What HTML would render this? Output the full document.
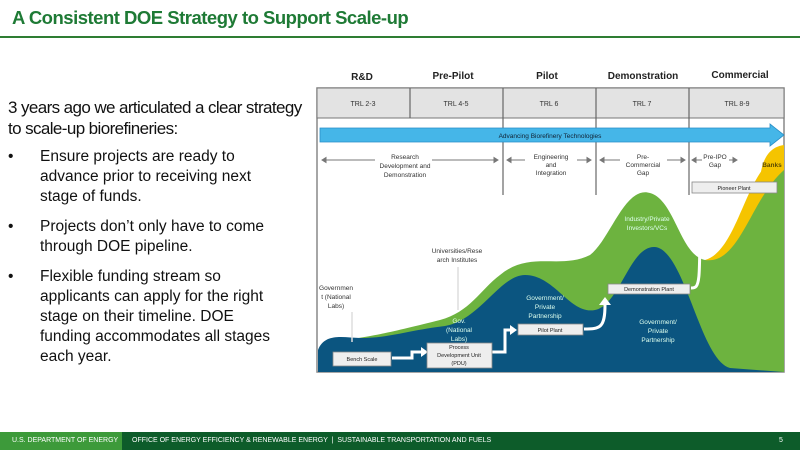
<!DOCTYPE html>
<html><head><meta charset="utf-8"><style>
body{margin:0;width:800px;height:450px;position:relative;background:#fff;font-family:"Liberation Sans",sans-serif;overflow:hidden}
.t{position:absolute;left:12px;top:7px;font-size:18.5px;font-weight:bold;color:#1e7a35;letter-spacing:-0.5px}
.hl{position:absolute;left:0;top:36px;width:800px;height:2px;background:#2e7d32}
.p{position:absolute;left:8px;top:97px;width:296px;font-size:17px;color:#111;line-height:21px;letter-spacing:-0.6px}
ul{position:absolute;left:8px;top:147px;width:242px;margin:0;padding-left:32px;font-size:15.5px;color:#111;line-height:20px;list-style:none}
li{margin-bottom:10px;position:relative}
li:before{content:"•";position:absolute;left:-32px;top:0}
.foot{position:absolute;left:0;top:432px;width:800px;height:18px;background:#0d5c2a;color:#fff;font-size:7px;line-height:18px;white-space:nowrap}
.foot .a{position:absolute;left:0;top:0;width:122px;height:18px;background:#3d9a3a;padding-left:12px;box-sizing:border-box}
.foot .b{position:absolute;left:132px}
.foot .c{position:absolute;left:779px}
</style></head><body>
<div class="t">A Consistent DOE Strategy to Support Scale-up</div>
<div class="hl"></div>
<div class="p">3 years ago we articulated a clear strategy to scale-up biorefineries:</div>
<ul>
<li>Ensure projects are ready to advance prior to receiving next stage of funds.</li>
<li>Projects don’t only have to come through DOE pipeline.</li>
<li>Flexible funding stream so applicants can apply for the right stage on their timeline. DOE funding accommodates all stages each year.</li>
</ul>
<svg style="position:absolute;left:0;top:0" width="800" height="450" font-family="Liberation Sans,sans-serif">
<g font-size="10" font-weight="bold" fill="#222" text-anchor="middle">
<text x="362" y="80">R&amp;D</text><text x="453" y="79">Pre-Pilot</text><text x="547" y="79">Pilot</text><text x="643" y="79">Demonstration</text><text x="740" y="78">Commercial</text></g>
<rect x="317" y="88" width="467" height="284" fill="#fff" stroke="#888" stroke-width="1.5"/>
<rect x="317" y="88" width="467" height="30" fill="#e3e3e3" stroke="#777"/>
<g stroke="#666" stroke-width="1.2"><line x1="410" y1="88" x2="410" y2="118"/><line x1="503" y1="88" x2="503" y2="195"/><line x1="596" y1="88" x2="596" y2="195"/><line x1="689" y1="88" x2="689" y2="195"/></g>
<g font-size="7" fill="#333" text-anchor="middle"><text x="363" y="106">TRL 2-3</text><text x="456" y="106">TRL 4-5</text><text x="549" y="106">TRL 6</text><text x="642" y="106">TRL 7</text><text x="737" y="106">TRL 8-9</text></g>
<path d="M784,250 C760,230 745,150 784,145 Z" fill="#f5c400"/>
<path d="M705,260 C740,250 745,165 784,152 L784,372 L700,372 Z" fill="#f5c400"/>
<path d="M340,372 L345,340 C380,335 400,330 440,320 C470,312 480,290 500,275 C530,250 560,270 590,255 C610,240 625,185 650,193 C675,200 680,255 705,260 C740,265 750,200 784,170 L784,372 Z" fill="#6db33f"/>
<path d="M318,372 L318,350 C325,332 345,338 360,338 C390,338 410,330 445,326 C480,320 500,275 525,275 C555,275 570,315 595,310 C620,305 630,245 655,247 C685,250 700,360 730,368 L784,372 Z" fill="#0b5580"/>
<path d="M320,128 L770,128 L770,124 L784,135 L770,146 L770,142 L320,142 Z" fill="#45b6e8" stroke="#2a8fc7" stroke-width="0.8"/>
<text x="550" y="138" font-size="6.5" fill="#123" text-anchor="middle">Advancing Biorefinery Technologies</text>
<g stroke="#777" stroke-width="1" fill="#777">
<line x1="325" y1="160" x2="375" y2="160"/><path d="M322,160 l4,-2.5 v5z"/><line x1="432" y1="160" x2="495" y2="160"/><path d="M498,160 l-4,-2.5 v5z"/>
<line x1="510" y1="160" x2="525" y2="160"/><path d="M507,160 l4,-2.5 v5z"/><line x1="577" y1="160" x2="588" y2="160"/><path d="M591,160 l-4,-2.5 v5z"/>
<line x1="603" y1="160" x2="620" y2="160"/><path d="M600,160 l4,-2.5 v5z"/><line x1="667" y1="160" x2="682" y2="160"/><path d="M685,160 l-4,-2.5 v5z"/>
<path d="M692,160 l4,-2.5 v5z"/><line x1="695" y1="160" x2="702" y2="160"/><line x1="729" y1="160" x2="734" y2="160"/><path d="M737,160 l-4,-2.5 v5z"/></g>
<g font-size="6.5" fill="#333" text-anchor="middle">
<text x="405" y="159">Research</text><text x="405" y="168">Development and</text><text x="405" y="177">Demonstration</text>
<text x="551" y="159">Engineering</text><text x="551" y="167">and</text><text x="551" y="175">Integration</text>
<text x="643" y="159">Pre-</text><text x="643" y="167">Commercial</text><text x="643" y="175">Gap</text>
<text x="715" y="159">Pre-IPO</text><text x="715" y="167">Gap</text>
<text x="772" y="167" font-weight="bold" fill="#5a4a00">Banks</text>
<text x="457" y="253">Universities/Rese</text><text x="457" y="262">arch Institutes</text>
<text x="336" y="290">Governmen</text><text x="336" y="299">t (National</text><text x="336" y="308">Labs)</text>
</g>
<g stroke="#ddd" stroke-width="1.5"><line x1="458" y1="267" x2="458" y2="310"/><line x1="352" y1="312" x2="352" y2="342"/></g>
<g font-size="6.5" fill="#dfe" text-anchor="middle">
<text x="647" y="221">Industry/Private</text><text x="647" y="230">Investors/VCs</text>
<text x="545" y="300">Government/</text><text x="545" y="309">Private</text><text x="545" y="318">Partnership</text>
<text x="459" y="323">Gov.</text><text x="459" y="332">(National</text><text x="459" y="341">Labs)</text>
<text x="658" y="324">Government/</text><text x="658" y="333">Private</text><text x="658" y="342">Partnership</text></g>
<g fill="none" stroke="#fff" stroke-width="3"><path d="M392,358 H412 V352 H422"/><path d="M492,352 H505 V330 H510"/><path d="M584,329 C600,329 605,328 605,305"/><path d="M691,288 C700,288 700,285 700,205"/></g>
<g fill="#fff"><path d="M428,352 l-7,-5 v10z"/><path d="M517,330 l-7,-5 v10z"/><path d="M605,297 l-6,8 h12z"/><path d="M700,196 l-4,7 h8z"/></g>
<g stroke="#888" stroke-width="0.8" fill="#eee">
<rect x="333" y="352" width="58" height="14"/><rect x="427" y="343" width="65" height="25"/><rect x="518" y="324" width="65" height="11"/><rect x="608" y="284" width="82" height="10"/><rect x="692" y="182" width="85" height="11"/></g>
<g font-size="5.5" fill="#222" text-anchor="middle">
<text x="362" y="361">Bench Scale</text><text x="459" y="349">Process</text><text x="459" y="357">Development Unit</text><text x="459" y="365">(PDU)</text>
<text x="550" y="332">Pilot Plant</text><text x="649" y="291">Demonstration Plant</text><text x="734" y="190">Pioneer Plant</text></g>
</svg>
<div class="foot"><div class="a">U.S. DEPARTMENT OF ENERGY</div><div class="b">OFFICE OF ENERGY EFFICIENCY &amp; RENEWABLE ENERGY &nbsp;|&nbsp; SUSTAINABLE TRANSPORTATION AND FUELS</div><div class="c">5</div></div>
</body></html>
